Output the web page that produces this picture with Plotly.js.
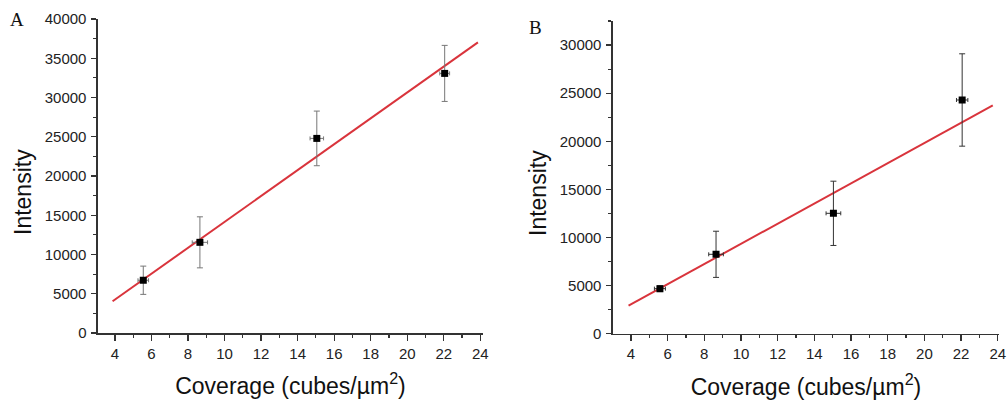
<!DOCTYPE html>
<html>
<head>
<meta charset="utf-8">
<script src="https://cdn.plot.ly/plotly-3.0.1.min.js"></script>
<style>html,body{margin:0;padding:0;background:#fff}#chart{width:1008px;height:400px}</style>
</head>
<body>
<div id="chart"></div>
<script>
// Panel A data
const xA = [5.55, 8.65, 15.05, 22.05];
const yA = [6720, 11550, 24790, 33070];
const xErrA = [0.29, 0.42, 0.37, 0.27];
const yErrA = [1800, 3250, 3480, 3570];
const fitXA = [3.87, 23.87];
const fitYA = [4040, 37030];

// Panel B data
const xB = [5.58, 8.64, 15.04, 22.06];
const yB = [4680, 8250, 12510, 24290];
const xErrB = [0.3, 0.4, 0.4, 0.31];
const yErrB = [300, 2400, 3340, 4800];
const fitXB = [3.87, 23.73];
const fitYB = [2910, 23730];

const xTicks = [4, 6, 8, 10, 12, 14, 16, 18, 20, 22, 24];
const yTicksA = [0, 5000, 10000, 15000, 20000, 25000, 30000, 35000, 40000];
const yTicksB = [0, 5000, 10000, 15000, 20000, 25000, 30000];
const xTitle = 'Coverage (cubes/µm<sup>2</sup>)';
const yTitle = 'Intensity';

const tickFont = {family: 'Liberation Sans, Arial, sans-serif', size: 15, color: '#222'};
const titleFont = {family: 'Liberation Sans, Arial, sans-serif', size: 23, color: '#111'};
const letterFont = {family: 'Liberation Serif, Times New Roman, serif', size: 19, color: '#111'};
const red = '#d9343c';

function pts(x, y, ex, ey, xa, ya, ecol) {
  return {
    x: x, y: y, xaxis: xa, yaxis: ya, type: 'scatter', mode: 'markers',
    marker: {symbol: 'square', size: 7, color: '#000'},
    error_y: {type: 'data', array: ey, visible: true, color: ecol, thickness: 1, width: 3},
    error_x: {type: 'data', array: ex, visible: true, color: ecol, thickness: 1, width: 2},
    showlegend: false, hoverinfo: 'x+y'
  };
}
function fit(x, y, xa, ya) {
  return {x: x, y: y, xaxis: xa, yaxis: ya, type: 'scatter', mode: 'lines',
    line: {color: red, width: 2}, showlegend: false};
}

function xax(domain, range, anchor) {
  return {
    domain: domain, range: range, anchor: anchor,
    tickvals: xTicks, ticktext: xTicks.map(String),
    ticks: 'outside', ticklen: 6, tickwidth: 1.2, tickcolor: '#333',
    minor: {dtick: 1, tick0: 0, ticks: 'outside', ticklen: 3, tickwidth: 1.2, tickcolor: '#333', showgrid: false},
    showline: true, linecolor: '#333', linewidth: 1.5, showgrid: false, zeroline: false,
    tickfont: tickFont,
    title: {text: xTitle, font: titleFont, standoff: 17}
  };
}
function yax(domain, range, anchor, vals) {
  return {
    domain: domain, range: range, anchor: anchor,
    tickvals: vals, ticktext: vals.map(String),
    ticks: 'outside', ticklen: 5, tickwidth: 1.2, tickcolor: '#333',
    minor: {dtick: 2500, tick0: 0, ticks: 'outside', ticklen: 3, tickwidth: 1.2, tickcolor: '#333', showgrid: false},
    showline: true, linecolor: '#333', linewidth: 1.5, showgrid: false, zeroline: false,
    tickfont: tickFont, ticklabelstandoff: 2
  };
}

const data = [
  fit(fitXA, fitYA, 'x', 'y'),
  pts(xA, yA, xErrA, yErrA, 'x', 'y', '#777'),
  fit(fitXB, fitYB, 'x2', 'y2'),
  pts(xB, yB, xErrB, yErrB, 'x2', 'y2', '#333')
];

const layout = {
  width: 1008, height: 400,
  margin: {l: 0, r: 0, t: 0, b: 0},
  paper_bgcolor: '#fff', plot_bgcolor: '#fff',
  xaxis: xax([0.0972, 0.4792], [3.07, 24.15], 'y'),
  yaxis: yax([0.1675, 0.9525], [0, 40000], 'x', yTicksA),
  xaxis2: xax([0.6081, 0.9911], [3.02, 24.07], 'y2'),
  yaxis2: yax([0.1658, 0.9475], [0, 32500], 'x2', yTicksB),
  annotations: [
    {text: 'A', xref: 'paper', yref: 'paper', x: 16.5 / 1008, y: 1 - 19.5 / 400,
     xanchor: 'center', yanchor: 'middle', showarrow: false, font: letterFont},
    {text: 'B', xref: 'paper', yref: 'paper', x: 535.5 / 1008, y: 1 - 27.5 / 400,
     xanchor: 'center', yanchor: 'middle', showarrow: false, font: letterFont},
    {text: yTitle, xref: 'paper', yref: 'paper', x: 23 / 1008, y: 1 - 192 / 400, textangle: -90,
     xanchor: 'center', yanchor: 'middle', showarrow: false, font: titleFont},
    {text: yTitle, xref: 'paper', yref: 'paper', x: 538 / 1008, y: 1 - 193 / 400, textangle: -90,
     xanchor: 'center', yanchor: 'middle', showarrow: false, font: titleFont}
  ]
};

Plotly.newPlot('chart', data, layout, {displayModeBar: false, staticPlot: true});
</script>
</body>
</html>
